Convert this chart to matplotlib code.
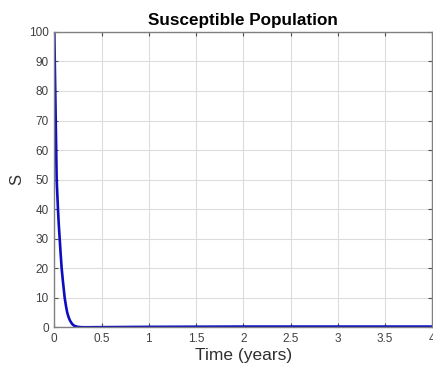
import matplotlib
matplotlib.use("Agg")
import matplotlib.pyplot as plt

# Data
t_years = [0.0, 0.005, 0.01, 0.015, 0.02, 0.025, 0.032, 0.039, 0.047, 0.057, 0.067,
           0.078, 0.09, 0.10, 0.11, 0.125, 0.137, 0.15, 0.165, 0.18, 0.194, 0.21,
           0.23, 0.25, 0.27, 0.29, 0.32, 0.36, 0.4, 0.5, 0.75, 1.0, 1.5, 2.0,
           2.5, 3.0, 3.5, 4.0]
S_values = [100, 90, 80, 70, 60, 50, 45, 40, 35, 30, 25,
            20, 16, 13, 10, 7, 5, 3.6, 2.4, 1.6, 1.0, 0.6,
            0.35, 0.2, 0.12, 0.08, 0.06, 0.06, 0.08, 0.1, 0.15, 0.2, 0.25, 0.3,
            0.3, 0.3, 0.3, 0.3]

x_ticks = [0, 0.5, 1, 1.5, 2, 2.5, 3, 3.5, 4]
x_tick_labels = ["0", "0.5", "1", "1.5", "2", "2.5", "3", "3.5", "4"]
y_ticks = [0, 10, 20, 30, 40, 50, 60, 70, 80, 90, 100]

plt.rcParams['font.family'] = ['Liberation Sans', 'DejaVu Sans']

fig = plt.figure(figsize=(4.33, 3.70), dpi=100)
ax = fig.add_axes([0.1254, 0.115, 0.873, 0.799])

ax.plot(t_years, S_values, color='#0c0cc0', linewidth=1.9)

ax.set_xlim(0, 4)
ax.set_ylim(0, 100)
ax.set_xticks(x_ticks)
ax.set_xticklabels(x_tick_labels)
ax.set_yticks(y_ticks)

ax.grid(True, color='#dcdcdc', linewidth=0.8)
ax.set_axisbelow(True)
for sp in ax.spines.values():
    sp.set_color('#808080')
    sp.set_linewidth(1.0)

ax.tick_params(direction='in', length=3, width=0.8, color='#505050',
               labelsize=8.5, labelcolor='#404040', top=True, right=True,
               pad=4)

ax.set_title('Susceptible Population', fontsize=12.3, fontweight='bold', pad=5)
ax.set_xlabel('Time (years)', fontsize=12.5, color='#303030', labelpad=2)
ax.set_ylabel('S', fontsize=12, color='#303030', labelpad=3)

fig.savefig('out.png', dpi=100, facecolor='white')
